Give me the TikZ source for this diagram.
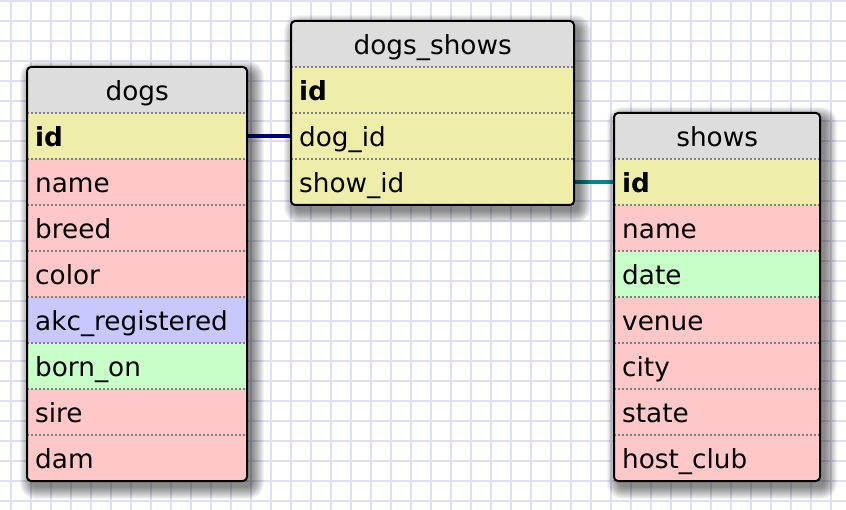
\documentclass[tikz,border=0pt]{standalone}
\usepackage{fontspec}
\setmainfont{DejaVu Sans}

\definecolor{gridline}{RGB}{222,222,246}
\definecolor{headgray}{RGB}{221,221,221}
\definecolor{keyyellow}{RGB}{238,238,170}
\definecolor{fieldpink}{RGB}{255,200,200}
\definecolor{fieldblue}{RGB}{200,200,255}
\definecolor{fieldgreen}{RGB}{200,255,200}
\definecolor{linkblue}{RGB}{0,0,136}
\definecolor{linkteal}{RGB}{0,136,136}

\pgfdeclarelayer{paper}
\pgfdeclarelayer{links}
\pgfsetlayers{paper,links,main}

% soft drop shadow under a table: corners x1,y1,x2,y2
\newcommand\dropshade[4]{%
  \foreach \e in {0,...,12}
    \fill[black, opacity=0.045, rounded corners={4pt+\e pt}]
      ({#1+5-\e},{#2+6-\e}) rectangle ({#3+5+\e},{#4+6+\e});
}

\tikzset{
  tablebox/.style={draw=black, line width=2pt, rounded corners=4pt},
  headbox/.style={fill=headgray, anchor=north west, minimum height=46pt, inner sep=0pt,
    text height=21pt, text depth=1pt},
  fieldbox/.style={anchor=north west, minimum height=46pt, inner xsep=8pt, inner ysep=0pt,
    text height=21pt, text depth=1pt, align=left},
  rowsep/.style={draw=gray, line width=2pt, dash pattern=on 2pt off 2pt},
  link/.style={line width=3.5pt}
}

\begin{document}
\begin{tikzpicture}[x=1pt, y=-1pt, every node/.style={font=\fontsize{26.3}{30}\selectfont}]
  \useasboundingbox (0,0) rectangle (846,510);

  % Background grid
  \begin{pgfonlayer}{paper}
    \fill[white] (0,0) rectangle (846,510);
    \foreach \gx in {11,31,...,831} \draw[gridline, line width=2pt] (\gx,0) -- (\gx,510);
    \foreach \gy in {1,21,...,501} \draw[gridline, line width=2pt] (0,\gy) -- (846,\gy);
  \end{pgfonlayer}

  % dogs table
  \dropshade{27}{67}{247}{481}
  \begin{scope}
    \clip[rounded corners=4pt] (27,67) rectangle (247,481);
    \node[headbox, minimum width=220pt] (dogs-0) at (27,67) {dogs};
    \foreach \txt/\col [count=\i] in {\textbf{id}/keyyellow, name/fieldpink, breed/fieldpink,
        color/fieldpink, akc\_registered/fieldblue, born\_on/fieldgreen, sire/fieldpink, dam/fieldpink} {
      \node[fieldbox, fill=\col, text width=204pt] (dogs-\i) at (27,{67+46*\i}) {\txt};
      \draw[rowsep] (dogs-\i.north west) -- (dogs-\i.north east);
    }
  \end{scope}
  \draw[tablebox] (27,67) rectangle (247,481);

  % dogs_shows table
  \dropshade{291}{21}{574}{205}
  \begin{scope}
    \clip[rounded corners=4pt] (291,21) rectangle (574,205);
    \node[headbox, minimum width=283pt] (dogsshows-0) at (291,21) {dogs\_shows};
    \foreach \txt/\col [count=\i] in {\textbf{id}/keyyellow, dog\_id/keyyellow, show\_id/keyyellow} {
      \node[fieldbox, fill=\col, text width=267pt] (dogsshows-\i) at (291,{21+46*\i}) {\txt};
      \draw[rowsep] (dogsshows-\i.north west) -- (dogsshows-\i.north east);
    }
  \end{scope}
  \draw[tablebox] (291,21) rectangle (574,205);

  % shows table
  \dropshade{614}{113}{820}{481}
  \begin{scope}
    \clip[rounded corners=4pt] (614,113) rectangle (820,481);
    \node[headbox, minimum width=206pt] (shows-0) at (614,113) {shows};
    \foreach \txt/\col [count=\i] in {\textbf{id}/keyyellow, name/fieldpink, date/fieldgreen,
        venue/fieldpink, city/fieldpink, state/fieldpink, host\_club/fieldpink} {
      \node[fieldbox, fill=\col, text width=190pt] (shows-\i) at (614,{113+46*\i}) {\txt};
      \draw[rowsep] (shows-\i.north west) -- (shows-\i.north east);
    }
  \end{scope}
  \draw[tablebox] (614,113) rectangle (820,481);

  % Links between keys, under the tables and their shadows
  \begin{pgfonlayer}{links}
    \draw[link, linkblue] (dogs-1.east) -- (dogsshows-2.west);
    \draw[link, linkteal] (dogsshows-3.east) -- (shows-1.west);
  \end{pgfonlayer}
\end{tikzpicture}
\end{document}
